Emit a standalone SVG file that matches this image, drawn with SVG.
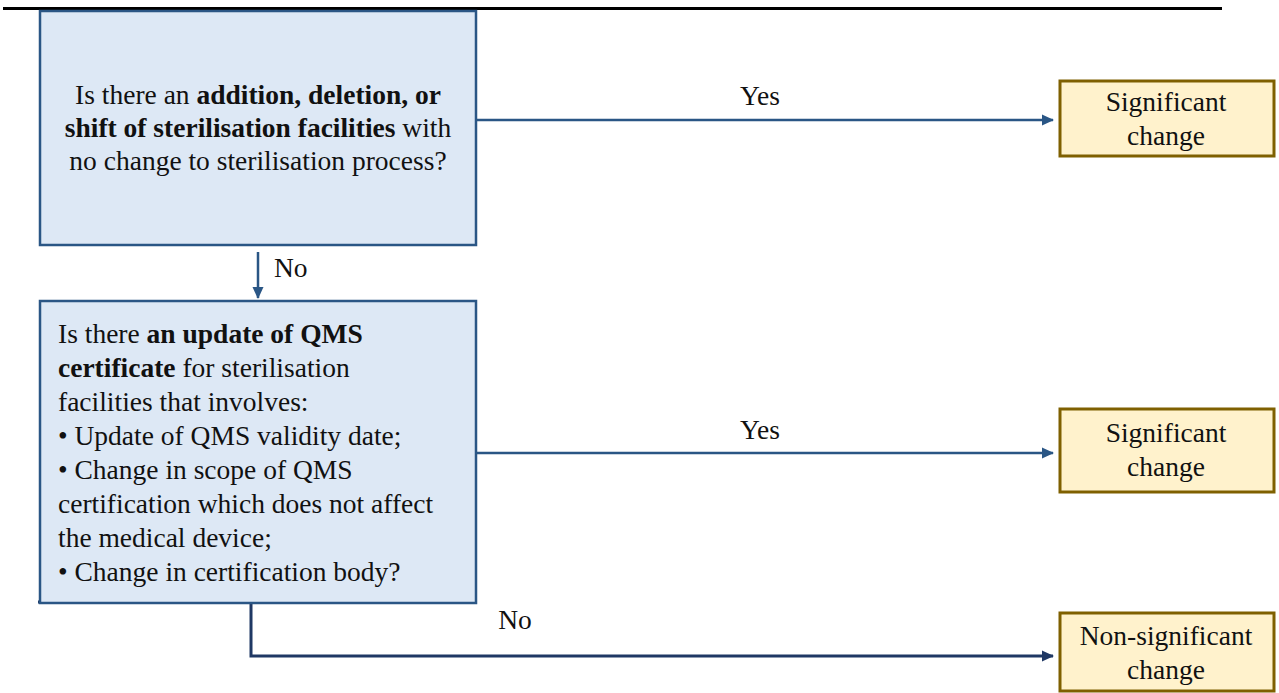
<svg xmlns="http://www.w3.org/2000/svg" width="1279" height="693" viewBox="0 0 1279 693" font-family="Liberation Serif, Times New Roman, serif">
<style>
.q{fill:#dde8f5;stroke:#2a5685;stroke-width:2.5}
.r{fill:#fff2cc;stroke:#7f6000;stroke-width:3}
text{font-size:27.5px;fill:#111}
.c{text-anchor:middle}
.b{font-weight:bold}
.ln{fill:none;stroke:#2a5685;stroke-width:2.5}
.ln2{fill:none;stroke:#1f3864;stroke-width:3}
</style>
<defs>
<marker id="ah" markerWidth="12" markerHeight="12" refX="11" refY="6" orient="auto" markerUnits="userSpaceOnUse">
<path d="M0,0.5 L12,6 L0,11.5 z" fill="#2a5685"/>
</marker>
<marker id="ah2" markerWidth="12" markerHeight="12" refX="11" refY="6" orient="auto" markerUnits="userSpaceOnUse">
<path d="M0,0.5 L12,6 L0,11.5 z" fill="#1f3864"/>
</marker>
</defs>
<line x1="3" y1="8.5" x2="1222" y2="8.5" stroke="#000" stroke-width="3"/>
<g id="connectors">
<line class="ln" x1="477" y1="120" x2="1053" y2="120" marker-end="url(#ah)"/>
<line class="ln" x1="258" y1="252" x2="258" y2="298" marker-end="url(#ah)"/>
<line class="ln" x1="477" y1="453" x2="1053" y2="453" marker-end="url(#ah)"/>
<path class="ln2" d="M38,602 H251 V656 H1053" marker-end="url(#ah2)"/>
<text x="760" y="105" class="c">Yes</text>
<text x="274" y="277">No</text>
<text x="760" y="439" class="c">Yes</text>
<text x="515" y="629" class="c">No</text>
</g>
<g id="q1">
<rect class="q" x="40" y="11" width="436" height="234"/>
<text x="258" y="104" class="c">Is there an <tspan class="b">addition, deletion, or</tspan></text>
<text x="258" y="137" class="c"><tspan class="b">shift of sterilisation facilities</tspan> with</text>
<text x="258" y="170" class="c">no change to sterilisation process?</text>
</g>
<g id="q2">
<rect class="q" x="40" y="301" width="436" height="302"/>
<text x="58" y="343">Is there <tspan class="b">an update of QMS</tspan></text>
<text x="58" y="377"><tspan class="b">certificate</tspan> for sterilisation</text>
<text x="58" y="411">facilities that involves:</text>
<text x="58" y="445">• Update of QMS validity date;</text>
<text x="58" y="479">• Change in scope of QMS</text>
<text x="58" y="513">certification which does not affect</text>
<text x="58" y="547">the medical device;</text>
<text x="58" y="581">• Change in certification body?</text>
</g>
<g id="r1">
<rect class="r" x="1060" y="81" width="214" height="75"/>
<text x="1166" y="111" class="c">Significant</text>
<text x="1166" y="145" class="c">change</text>
</g>
<g id="r2">
<rect class="r" x="1060" y="409" width="214" height="83"/>
<text x="1166" y="442" class="c">Significant</text>
<text x="1166" y="476" class="c">change</text>
</g>
<g id="r3">
<rect class="r" x="1060" y="613" width="214" height="78"/>
<text x="1166" y="645" class="c">Non-significant</text>
<text x="1166" y="679" class="c">change</text>
</g>
</svg>
